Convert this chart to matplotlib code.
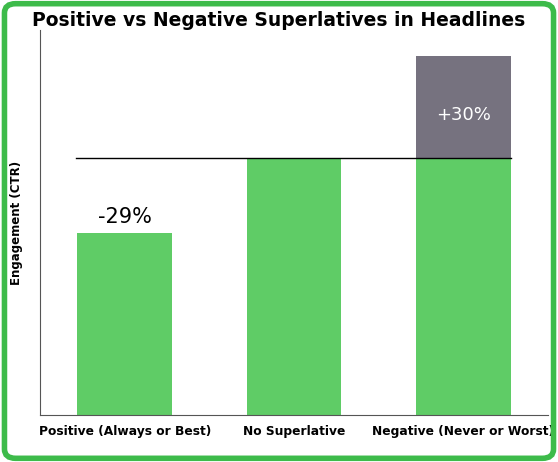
import matplotlib
matplotlib.use("Agg")
import matplotlib.pyplot as plt
from matplotlib.patches import FancyBboxPatch

categories = ["Positive (Always or Best)", "No Superlative", "Negative (Never or Worst)"]
base_values = [71, 100, 100]
extra_values = [0, 0, 40]
labels = ["-29%", "", "+30%"]

fig = plt.figure(figsize=(5.58, 4.62), dpi=100)
fig.patches.append(FancyBboxPatch((0.008, 0.008), 0.984, 0.984, boxstyle="round,pad=0,rounding_size=0.02",
                                  transform=fig.transFigure, fill=False, edgecolor="#3dbb4a", linewidth=4))
ax = fig.add_axes([40/558, 1-415/462, 508/558, 385/462])
x = range(len(categories))
ax.bar(x, base_values, width=0.56, color="#5fcc66")
ax.bar(x, extra_values, bottom=base_values, width=0.56, color="#76727f")
ax.plot([-0.29, 2.28], [100, 100], color="black", lw=1)
ax.text(0, base_values[0] + 6, labels[0], ha="center", va="center", fontsize=15)
ax.text(2, 100 + extra_values[2] * 0.42, labels[2], ha="center", va="center", fontsize=13, color="white")
ax.set_xlim(-0.5, 2.5)
ax.set_ylim(0, 150)
ax.set_yticks([])
ax.set_xticks(list(x))
ax.set_xticklabels(categories, fontweight="bold", fontsize=8.8)
ax.tick_params(axis="x", length=0, pad=7)
for s in ["top", "right"]:
    ax.spines[s].set_visible(False)
ax.spines["left"].set_color("#555555")
ax.spines["bottom"].set_color("#555555")
ax.set_ylabel("Engagement (CTR)", fontweight="bold", fontsize=8.5, labelpad=12)
fig.text(0.5, 0.955, "Positive vs Negative Superlatives in Headlines", ha="center", va="center",
         fontsize=13.5, fontweight="bold")
fig.savefig("out.png", dpi=100)
